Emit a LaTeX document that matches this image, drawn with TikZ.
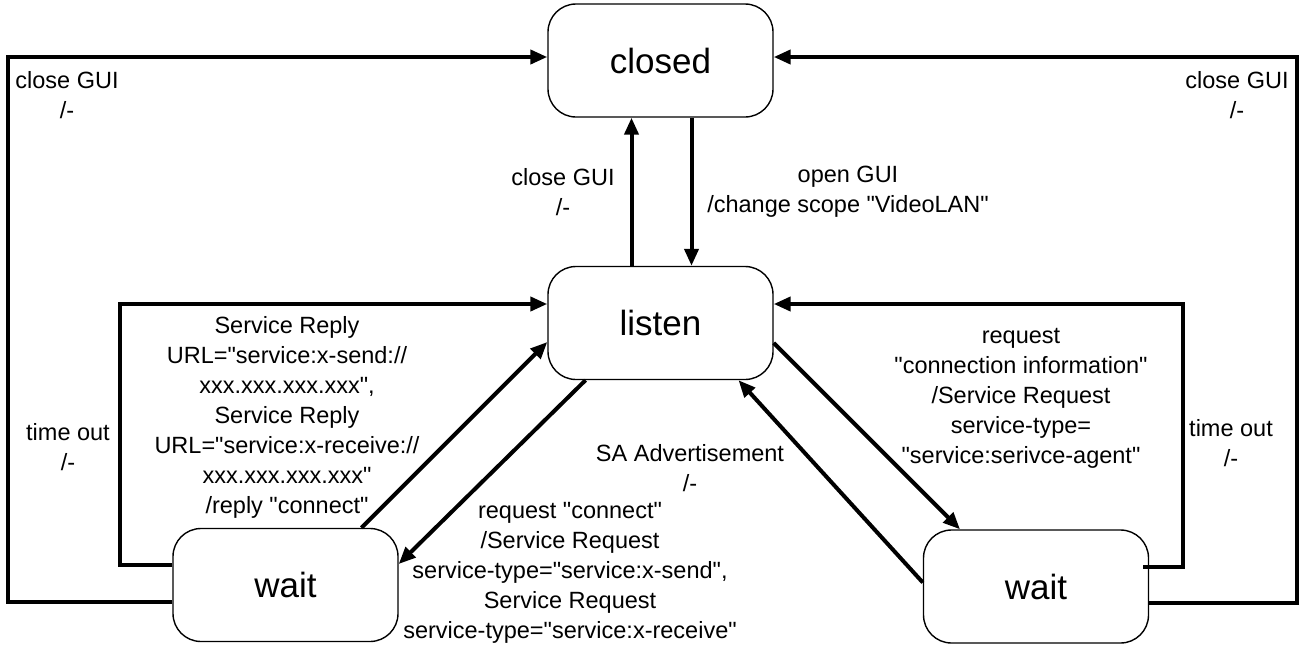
\documentclass[tikz,border=0pt]{standalone}
\usepackage{fontspec}
\setmainfont{Liberation Sans}[Ligatures=TeXOff]
\usetikzlibrary{arrows.meta}
\begin{document}
\begin{tikzpicture}[x=1pt,y=-1pt,
  state/.style={draw,line width=1.4pt,rounded corners=28pt,minimum width=225pt,minimum height=113pt,inner sep=0pt,font=\fontsize{35}{40}\selectfont},
  conn/.style={line width=4pt,-{Triangle[length=17pt,width=14pt]}},
  lbl/.style={align=center,inner sep=0pt,font=\fontsize{23.5}{30}\selectfont}]
\useasboundingbox (0,0) rectangle (1305,648);
\node[state] (closed) at (660.5,60.5) {closed};
\node[state] (listen) at (660.5,323) {listen};
\node[state] (waitL) at (285.5,585) {wait};
\node[state] (waitR) at (1036,586.5) {wait};
% corner points
\coordinate (c1) at (8,602);
\coordinate (c2) at (8,57);
\coordinate (c3) at (120,565);
\coordinate (c4) at (120,304);
\coordinate (c5) at (1183,567);
\coordinate (c6) at (1183,304);
\coordinate (c7) at (1297,603);
\coordinate (c8) at (1297,57);
\draw[conn,line join=miter] (waitL.west |- c1) -- (c1) -- (c2) -- (closed.west |- c2);
\draw[conn,line join=miter] (waitL.west |- c3) -- (c3) -- (c4) -- (listen.west |- c4);
\draw[conn,line join=miter] ([xshift=-6pt]waitR.east |- c5) -- (c5) -- (c6) -- (listen.east |- c6);
\draw[conn,line join=miter] (waitR.east |- c7) -- (c7) -- (c8) -- (closed.east |- c8);
% vertical
\draw[conn] ([xshift=-29pt]listen.north) -- ([xshift=-29pt]closed.south);
\draw[conn] ([xshift=31pt]closed.south) -- ([xshift=31pt]listen.north);
% diagonals
\draw[conn] ([xshift=76pt]waitL.north) -- ([yshift=-19pt]listen.west);
\draw[conn] ([xshift=-75pt]listen.south) -- ([yshift=21pt]waitL.east);
\draw[conn] ([yshift=-20pt]listen.east) -- ([xshift=-76pt]waitR.north);
\draw[conn] ([yshift=4pt]waitR.west) -- ([xshift=78pt]listen.south);
% labels
\node[lbl] (l1) at (67,95) {close GUI\\/-};
\node[lbl] (l2) at (563,192) {close GUI\\/-};
\node[lbl] (l3) at (848,192) {open GUI\\/change scope "VideoLAN"};
\node[lbl] (l4) at (287,417) {Service Reply\\URL="service:x-send://\\xxx.xxx.xxx.xxx",\\Service Reply\\URL="service:x-receive://\\xxx.xxx.xxx.xxx"\\/reply "connect"};
\node[lbl] (l5) at (68,447) {time out\\/-};
\node[lbl] (l6) at (690,468) {SA Advertisement\\/-};
\node[lbl] (l7) at (570,573) {request "connect"\\/Service Request\\service-type="service:x-send",\\Service Request\\service-type="service:x-receive"};
\node[lbl] (l8) at (1021,398) {request\\"connection information"\\/Service Request\\service-type=\\"service:serivce-agent"};
\node[lbl] (l9) at (1231,443) {time out\\/-};
\node[lbl] (l10) at (1237,95) {close GUI\\/-};
\end{tikzpicture}
\end{document}
